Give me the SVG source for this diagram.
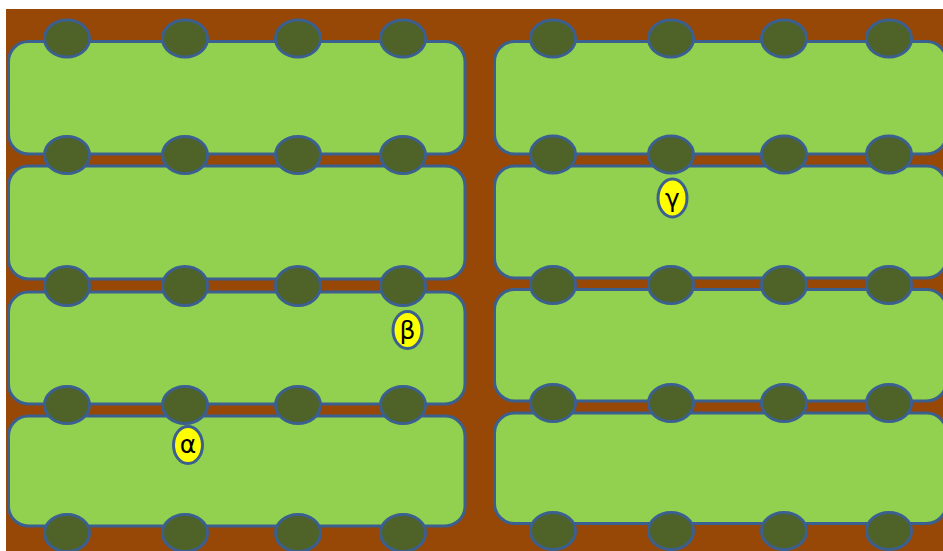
<svg xmlns="http://www.w3.org/2000/svg" width="943" height="551" viewBox="0 0 943 551">
<defs>
<style>
.bed{fill:#92D050;stroke:#3B5F8E;stroke-width:3}
.tree{fill:#4F6228;stroke:#3B5F8E;stroke-width:3}
.lab{fill:#FFFF00;stroke:#3B5F8E;stroke-width:3}
.t{font-family:"DejaVu Sans","Liberation Sans",sans-serif;font-size:25px;fill:#000;text-anchor:middle}
</style>
</defs>
<rect width="943" height="551" fill="#FFFFFF"/>
<rect x="6" y="9" width="937" height="542" fill="#974706"/>
<g id="beds">
<rect id="bedL1" class="bed" x="8.5" y="41.5" width="456.5" height="112.5" rx="20"/>
<rect id="bedL2" class="bed" x="8.5" y="166" width="456.5" height="113" rx="20"/>
<rect id="bedL3" class="bed" x="8.5" y="292" width="456.5" height="112" rx="20"/>
<rect id="bedL4" class="bed" x="8.5" y="416" width="456.5" height="110" rx="20"/>
<rect id="bedR1" class="bed" x="494.5" y="41.5" width="452" height="112.5" rx="20"/>
<rect id="bedR2" class="bed" x="494.5" y="166" width="452" height="112" rx="20"/>
<rect id="bedR3" class="bed" x="494.5" y="289.5" width="452" height="111.5" rx="20"/>
<rect id="bedR4" class="bed" x="494.5" y="413" width="452" height="110.5" rx="20"/>
</g>
<g id="trees">
<g id="treesL">
<ellipse class="tree" cx="67" cy="38.5" rx="22.5" ry="18.5"/>
<ellipse class="tree" cx="185" cy="38.5" rx="22.5" ry="18.5"/>
<ellipse class="tree" cx="298" cy="38.5" rx="22.5" ry="18.5"/>
<ellipse class="tree" cx="403" cy="38.5" rx="22.5" ry="18.5"/>
<ellipse class="tree" cx="67" cy="155" rx="22.5" ry="18.5"/>
<ellipse class="tree" cx="185" cy="155" rx="22.5" ry="18.5"/>
<ellipse class="tree" cx="298" cy="155" rx="22.5" ry="18.5"/>
<ellipse class="tree" cx="403" cy="155" rx="22.5" ry="18.5"/>
<ellipse class="tree" cx="67" cy="286" rx="22.5" ry="19.5"/>
<ellipse class="tree" cx="185" cy="286" rx="22.5" ry="19.5"/>
<ellipse class="tree" cx="298" cy="286" rx="22.5" ry="19.5"/>
<ellipse class="tree" cx="403" cy="286" rx="22.5" ry="19.5"/>
<ellipse class="tree" cx="67" cy="405" rx="22.5" ry="18.5"/>
<ellipse class="tree" cx="185" cy="405" rx="22.5" ry="18.5"/>
<ellipse class="tree" cx="298" cy="405" rx="22.5" ry="18.5"/>
<ellipse class="tree" cx="403" cy="405" rx="22.5" ry="18.5"/>
<ellipse class="tree" cx="67" cy="533" rx="22.5" ry="18.5"/>
<ellipse class="tree" cx="185" cy="533" rx="22.5" ry="18.5"/>
<ellipse class="tree" cx="298" cy="533" rx="22.5" ry="18.5"/>
<ellipse class="tree" cx="403" cy="533" rx="22.5" ry="18.5"/>
</g>
<g id="treesR">
<ellipse class="tree" cx="553" cy="38.5" rx="22.5" ry="18.5"/>
<ellipse class="tree" cx="671" cy="38.5" rx="22.5" ry="18.5"/>
<ellipse class="tree" cx="784" cy="38.5" rx="22.5" ry="18.5"/>
<ellipse class="tree" cx="889" cy="38.5" rx="22.5" ry="18.5"/>
<ellipse class="tree" cx="553" cy="154.5" rx="22.5" ry="18.5"/>
<ellipse class="tree" cx="671" cy="154.5" rx="22.5" ry="18.5"/>
<ellipse class="tree" cx="784" cy="154.5" rx="22.5" ry="18.5"/>
<ellipse class="tree" cx="889" cy="154.5" rx="22.5" ry="18.5"/>
<ellipse class="tree" cx="553" cy="285" rx="22.5" ry="18.5"/>
<ellipse class="tree" cx="671" cy="285" rx="22.5" ry="18.5"/>
<ellipse class="tree" cx="784" cy="285" rx="22.5" ry="18.5"/>
<ellipse class="tree" cx="889" cy="285" rx="22.5" ry="18.5"/>
<ellipse class="tree" cx="553" cy="403" rx="22.5" ry="18.5"/>
<ellipse class="tree" cx="671" cy="403" rx="22.5" ry="18.5"/>
<ellipse class="tree" cx="784" cy="403" rx="22.5" ry="18.5"/>
<ellipse class="tree" cx="889" cy="403" rx="22.5" ry="18.5"/>
<ellipse class="tree" cx="553" cy="531" rx="22.5" ry="18.5"/>
<ellipse class="tree" cx="671" cy="531" rx="22.5" ry="18.5"/>
<ellipse class="tree" cx="784" cy="531" rx="22.5" ry="18.5"/>
<ellipse class="tree" cx="889" cy="531" rx="22.5" ry="18.5"/>
</g>
</g>
<g id="labelAlpha">
<ellipse class="lab" cx="188" cy="445" rx="14.5" ry="18.5"/>
<text class="t" x="188" y="453">α</text>
</g>
<g id="labelBeta">
<ellipse class="lab" cx="407.5" cy="330" rx="14.5" ry="18.5"/>
<text class="t" x="407.5" y="339">β</text>
</g>
<g id="labelGamma">
<ellipse class="lab" cx="672.5" cy="198" rx="14.5" ry="19"/>
<text class="t" x="672.5" y="207">γ</text>
</g>
<g id="connectors"/>
</svg>
